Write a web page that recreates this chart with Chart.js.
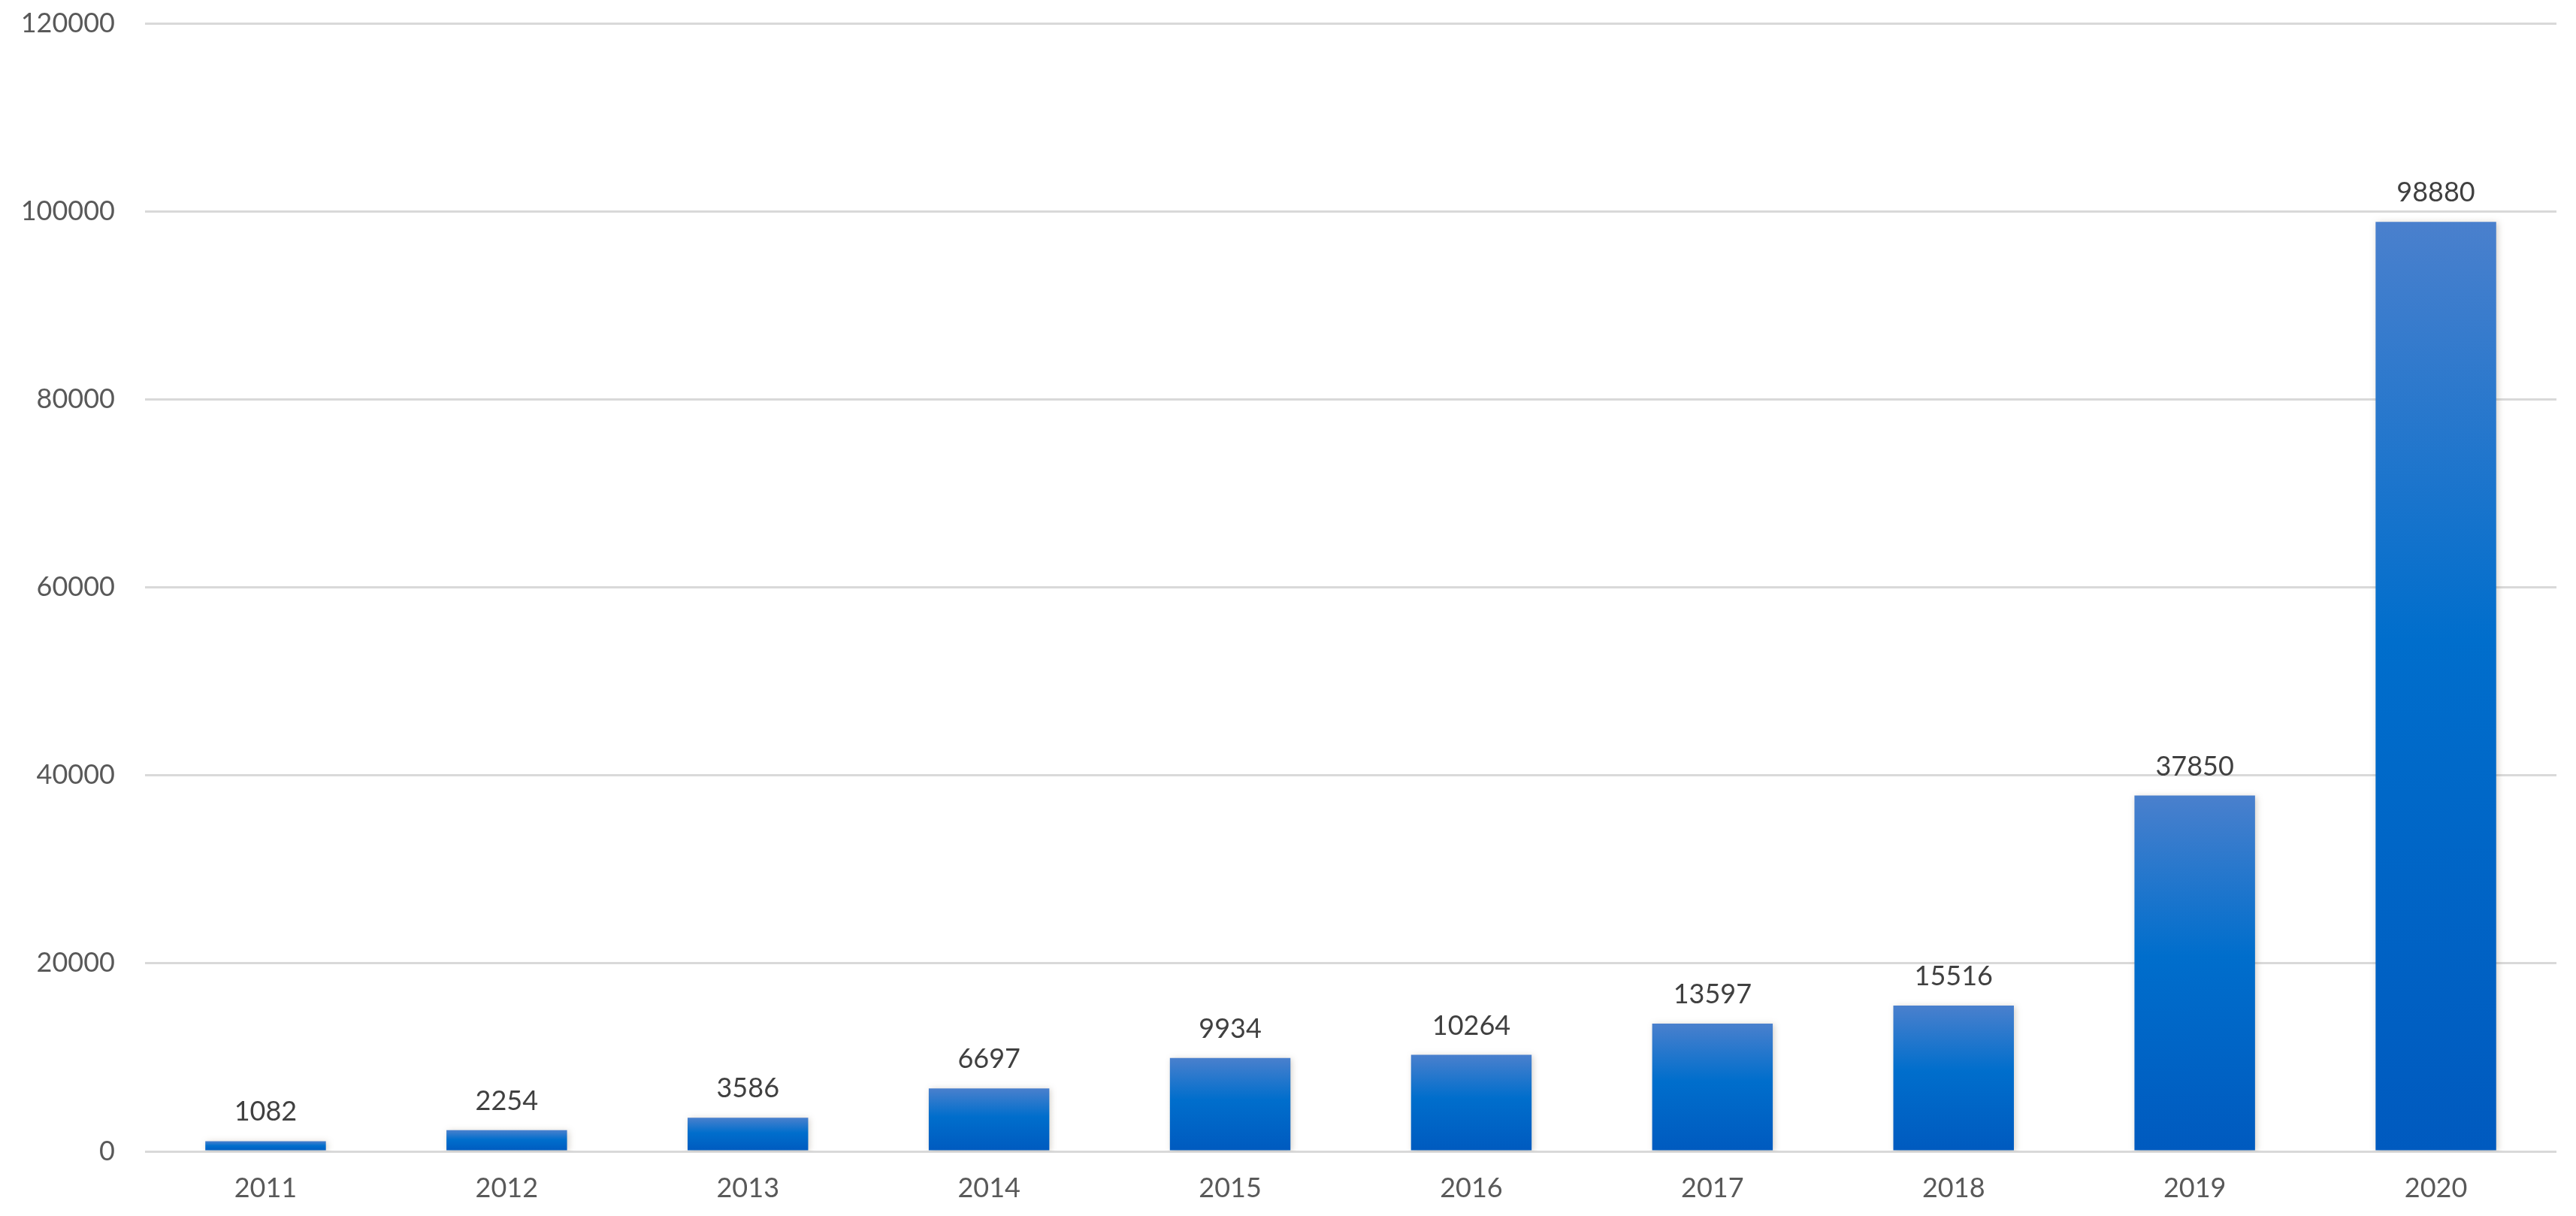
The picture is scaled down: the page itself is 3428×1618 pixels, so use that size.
<!DOCTYPE html>
<html>
<head>
<meta charset="utf-8">
<script src="https://cdn.jsdelivr.net/npm/chart.js@4"></script>
<style>
  html, body { margin: 0; padding: 0; background: #fff; }
  #wrap { width: 3428px; height: 1618px; }
</style>
</head>
<body>
<div id="wrap"><canvas id="barChart" width="3428" height="1618"></canvas></div>
<script>
const years = ['2011', '2012', '2013', '2014', '2015', '2016', '2017', '2018', '2019', '2020'];
const counts = [1082, 2254, 3586, 6697, 9934, 10264, 13597, 15516, 37850, 98880];
const yMax = 120000;
const yStep = 20000;

// Excel-like vertical gradient, one per bar
function barGradient(c) {
    const chart = c.chart;
    if (!chart.chartArea || c.type !== 'data') return '#0070cc';
    const y = chart.scales.y;
    const top = y.getPixelForValue(c.raw);
    const base = y.getPixelForValue(0);
    const g = chart.ctx.createLinearGradient(0, top, 0, Math.max(base, top + 1));
    g.addColorStop(0, '#4a80cd');
    g.addColorStop(0.45, '#006ecc');
    g.addColorStop(1, '#005abf');
    return g;
}

const barShadow = {
    id: 'barShadow',
    beforeDatasetsDraw(chart) {
        const ctx = chart.ctx;
        ctx.save();
        ctx.shadowColor = 'rgba(90, 70, 40, 0.25)';
        ctx.shadowBlur = 8;
        ctx.shadowOffsetX = 2;
        ctx.shadowOffsetY = 1;
    },
    afterDatasetsDraw(chart) {
        chart.ctx.restore();
    }
};

// values written above each bar
const valueLabels = {
    id: 'valueLabels',
    afterDatasetsDraw(chart) {
        const ctx = chart.ctx;
        const meta = chart.getDatasetMeta(0);
        ctx.save();
        ctx.font = '36px Lato';
        ctx.fillStyle = '#404040';
        ctx.textAlign = 'center';
        ctx.textBaseline = 'alphabetic';
        meta.data.forEach((bar, i) => {
            ctx.fillText(String(chart.data.datasets[0].data[i]), bar.x, bar.y - 27);
        });
        ctx.restore();
    }
};

const ctx = document.getElementById('barChart').getContext('2d');
new Chart(ctx, {
    type: 'bar',
    data: {
        labels: years,
        datasets: [{
            data: counts,
            backgroundColor: barGradient,
            borderWidth: 0,
            barPercentage: 0.5,
            categoryPercentage: 1
        }]
    },
    options: {
        responsive: false,
        devicePixelRatio: 1,
        animation: false,
        layout: { padding: { top: 31, right: 26, left: 0, bottom: 0 } },
        plugins: {
            legend: { display: false },
            tooltip: { enabled: false }
        },
        scales: {
            x: {
                grid: { display: false, drawTicks: false },
                border: { display: false },
                ticks: {
                    padding: 28,
                    color: '#595959',
                    font: { family: 'Lato', size: 36 }
                },
                afterFit(scale) { scale.height = 86; }
            },
            y: {
                min: 0,
                max: yMax,
                ticks: {
                    stepSize: yStep,
                    padding: 40,
                    color: '#595959',
                    font: { family: 'Lato', size: 36 },
                    callback: v => String(v)
                },
                grid: { color: '#d9d9d9', lineWidth: 3, drawTicks: false },
                border: { display: false },
                afterFit(scale) {
                    scale.width = 193;
                    scale.paddingTop = 0;
                    scale.paddingBottom = 0;
                }
            }
        }
    },
    plugins: [barShadow, valueLabels]
});
</script>
</body>
</html>
